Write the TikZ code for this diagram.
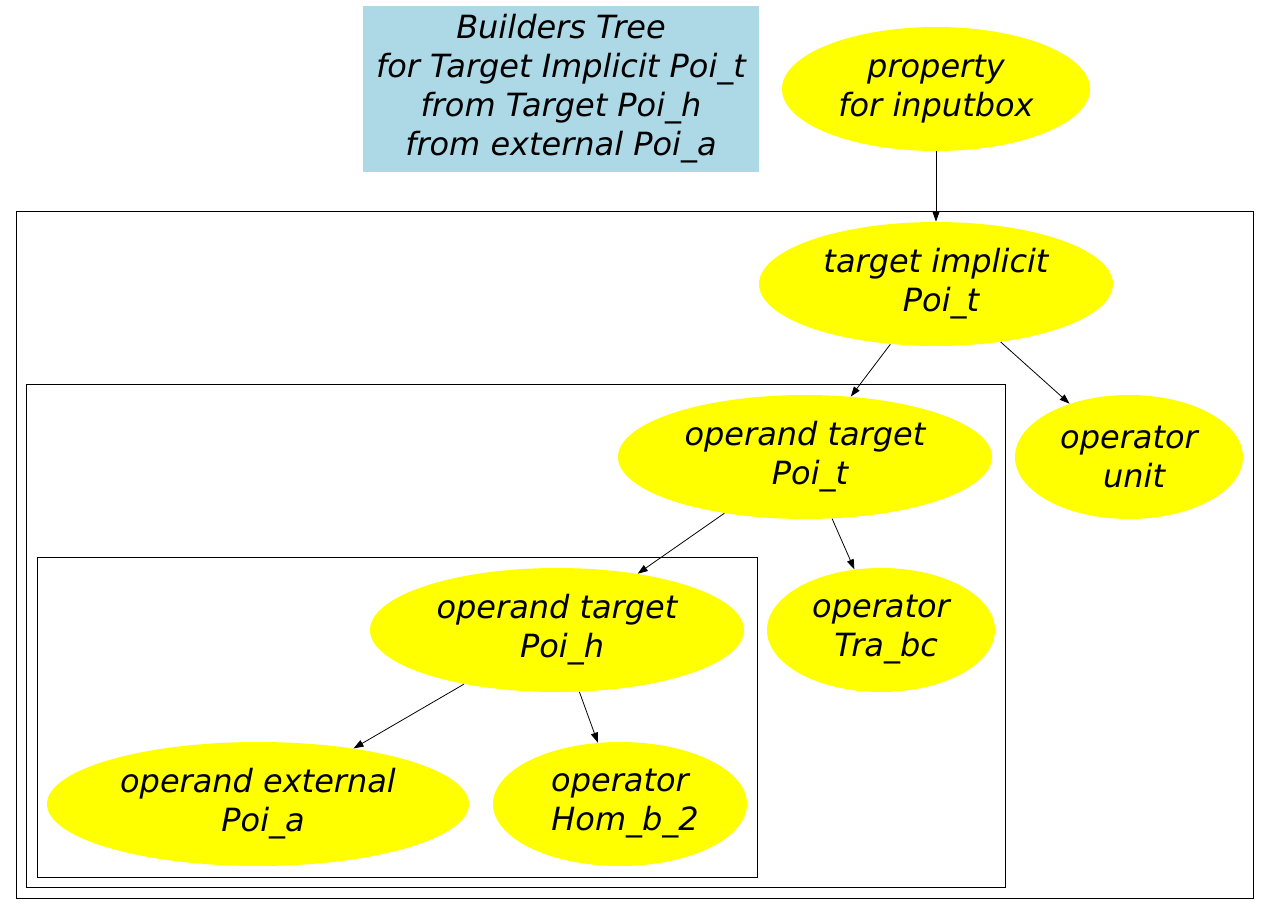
\documentclass[tikz,border=0pt]{standalone}
\usepackage{fontspec}
\setmainfont{DejaVu Sans}
\usetikzlibrary{shapes.geometric,arrows.meta}
\definecolor{titleblue}{HTML}{ADD8E6}
\definecolor{nodeyellow}{HTML}{FFFF00}
\newcommand{\lsp}{\hspace*{.318em}}
\tikzset{
  oval/.style={ellipse,fill=nodeyellow,inner sep=0pt,align=center,minimum height=124*0.02cm},
  edge/.style={line width=.45pt,-{Triangle[length=2mm,width=1.4mm]}},
  cluster/.style={line width=.45pt}
}
\begin{document}
\begin{tikzpicture}[x=0.02cm,y=-0.02cm,font=\fontsize{18.2}{22.2}\selectfont\itshape]
\useasboundingbox(0,0)rectangle(1269,915);
\node[fill=titleblue,minimum width=396*0.02cm,minimum height=166*0.02cm,align=center,inner sep=0pt](title)at(561,89){Builders Tree\\for Target Implicit Poi\_t\\from Target Poi\_h\\from external Poi\_a};
\node[oval,minimum width=308*0.02cm](prop)at(936,89){property\\for inputbox};
% clusters
\draw[cluster](16,211)rectangle(1253,898);
\draw[cluster](26,384)rectangle(1005,887);
\draw[cluster](37,557)rectangle(757,877);
\node[oval,minimum width=354*0.02cm](timpl)at(936,284){target implicit\\\lsp Poi\_t};
\node[oval,minimum width=374*0.02cm](optt)at(805,457){operand target\\\lsp Poi\_t};
\node[oval,minimum width=228*0.02cm](unit)at(1129,457){operator\\\lsp unit};
\node[oval,minimum width=374*0.02cm](opth)at(557,630){operand target\\\lsp Poi\_h};
\node[oval,minimum width=228*0.02cm](trabc)at(881,630){operator\\\lsp Tra\_bc};
\node[oval,minimum width=422*0.02cm](opext)at(258,804){operand external\\\lsp Poi\_a};
\node[oval,minimum width=254*0.02cm](homb)at(620,804){operator\\\lsp Hom\_b\_2};
\draw[edge](prop)--(timpl);
\draw[edge](timpl)--(optt);
\draw[edge](timpl)--(unit);
\draw[edge](optt)--(opth);
\draw[edge](optt)--(trabc);
\draw[edge](opth)--(opext);
\draw[edge](opth)--(homb);
\end{tikzpicture}
\end{document}
